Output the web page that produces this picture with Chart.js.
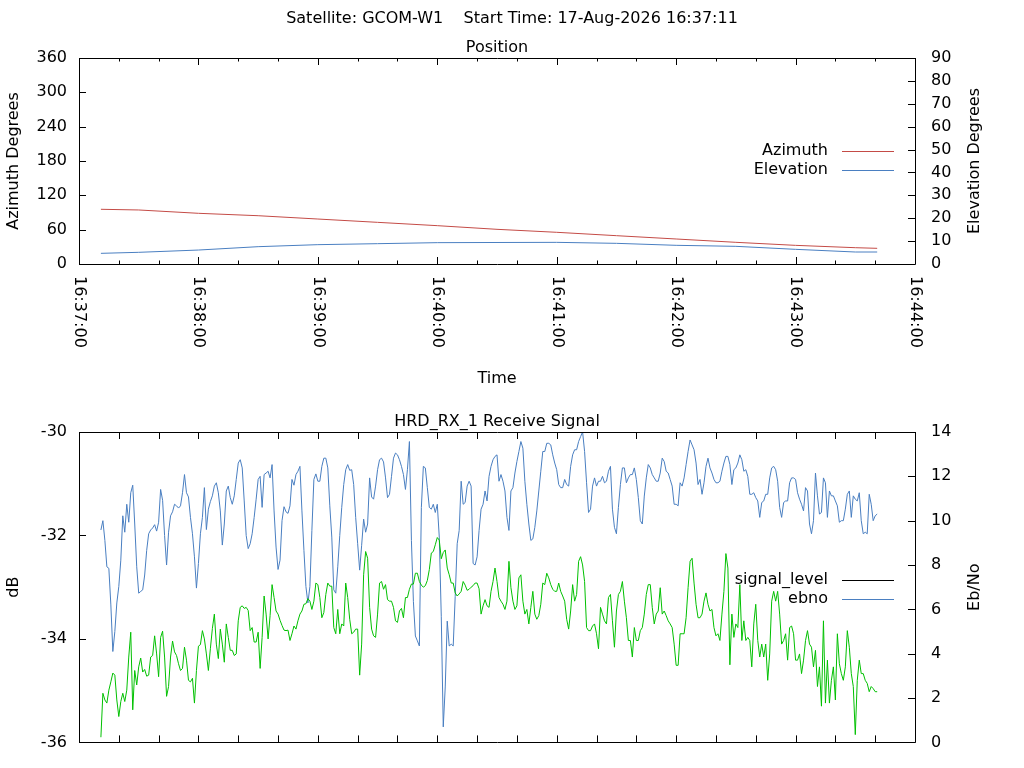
<!DOCTYPE html>
<html lang="en">
<head>
<meta charset="UTF-8">
<title>GCOM-W1 pass</title>
<style>
  body { margin: 0; background: #fff; }
  #page { position: relative; width: 1024px; height: 768px; font-family: 'DejaVu Sans', sans-serif; }
  #posBox { position: absolute; left: 0; top: 0; width: 1024px; height: 390px; }
  #rxBox { position: absolute; left: 0; top: 390px; width: 1024px; height: 378px; }
  #heading { position: absolute; left: 0; top: 8px; width: 1024px; text-align: center;
             font-size: 16px; line-height: 19px; white-space: pre; color: #000; }
</style>
</head>
<body>
<div id="page">
  <div id="posBox"><canvas id="posChart" width="1024" height="390"></canvas></div>
  <div id="rxBox"><canvas id="rxChart" width="1024" height="378"></canvas></div>
  <div id="heading">Satellite: GCOM-W1    Start Time: 17-Aug-2026 16:37:11</div>
</div>
<script src="https://cdn.jsdelivr.net/npm/chart.js@4.4.1/dist/chart.umd.min.js"></script>
<script>
// x axis is seconds after 16:37:00
const timeLabels = ['16:37:00', '16:38:00', '16:39:00', '16:40:00', '16:41:00', '16:42:00', '16:43:00', '16:44:00']

// antenna position
const posTimes  = [11, 30, 60, 90, 120, 150, 180, 210, 240, 270, 300, 330, 360, 390, 401]
const azimuth   = [95.6, 94.4, 88.6, 84.4, 78.6, 72.8, 67.0, 60.6, 55.4, 49.5, 43.7, 37.9, 32.6, 28.5, 27.4]
const elevation = [4.66, 5.1, 6.1, 7.57, 8.45, 8.88, 9.32, 9.4, 9.46, 9.03, 8.16, 7.72, 6.41, 5.24, 5.24]

// receiver samples, one per second from 16:37:11
const firstSample = 11
const signalLevel = [
  -35.9, -35.05, -35.18, -35.24, -34.99, -34.83, -34.66, -34.7, -35.18, -35.5,
  -35.21, -35.05, -35.21, -34.99, -34.35, -33.87, -35.37, -34.61, -34.89, -34.54,
  -34.37, -34.64, -34.59, -34.72, -34.7, -34.35, -34.32, -33.94, -34.29, -34.73,
  -33.97, -33.85, -34.35, -35.11, -34.92, -34.35, -34.04, -34.25, -34.32, -34.48,
  -34.61, -34.57, -34.16, -34.41, -34.8, -34.83, -34.76, -35.24, -34.61, -34.14,
  -34.11, -33.84, -34.0, -34.29, -34.61, -34.19, -33.8, -33.52, -34.1, -34.38,
  -33.81, -34.1, -34.45, -33.71, -33.97, -34.22, -34.22, -34.32, -34.29, -33.65,
  -33.39, -33.36, -33.41, -33.39, -33.45, -33.84, -33.78, -34.06, -34.06, -33.87,
  -34.57, -33.97, -33.17, -33.52, -34.0, -33.55, -32.95, -33.2, -33.46, -33.52,
  -33.64, -33.74, -33.83, -33.84, -33.83,
  -34.03, -33.9, -33.75, -33.81, -33.65,
  -33.52, -33.46, -33.33, -33.32, -33.22, -33.27, -33.43, -33.27, -32.92, -32.95,
  -33.2, -33.59, -33.49, -33.14, -32.92, -32.98, -32.98, -33.78, -33.9, -33.43,
  -33.9, -33.71, -33.75, -32.92, -33.2, -33.62, -33.9, -33.87, -33.81, -33.81,
  -34.7, -34.1, -32.76, -32.31, -32.44, -33.39, -33.81, -33.94, -33.97, -33.52,
  -32.92, -32.89, -33.04, -32.95, -33.24, -33.27, -33.27, -33.39, -33.65, -33.68,
  -33.46, -33.41, -33.59, -33.2, -33.2, -33.04, -32.94, -32.94, -32.73, -32.73,
  -32.89, -32.96, -33.0, -32.97, -32.87, -32.66, -32.34, -32.31, -32.18, -32.04,
  -32.09, -32.45, -32.33, -32.28, -32.63, -32.76, -32.92, -32.92, -33.11, -33.17,
  -33.13, -33.08, -32.89, -32.96, -33.06, -33.04, -33.0, -32.97, -32.92, -32.92,
  -33.03, -33.52, -33.36, -33.24, -33.36, -33.39,
  -33.08, -32.89, -32.63, -32.89,
  -33.2, -33.27, -33.33, -33.43, -33.27, -32.5, -33.01, -33.27, -33.43, -33.36,
  -32.82, -32.76, -33.27, -33.52, -33.43, -33.71, -33.39, -33.08, -33.52, -33.62,
  -33.55, -33.33, -32.92, -32.95, -32.73, -32.82, -32.95, -33.04, -33.08, -33.08,
  -32.92, -33.08, -33.17, -33.27, -33.62, -33.81, -33.46, -32.95, -33.27, -33.14,
  -32.5, -32.41, -32.57, -32.89, -33.78, -33.84, -33.84, -33.75, -33.71, -33.9,
  -34.19, -33.39, -33.52, -33.65, -33.71, -33.2, -33.14, -33.65, -34.16, -33.46,
  -33.14, -33.08, -32.89, -33.27, -33.59, -34.03, -34.03, -34.35, -33.78, -34.03,
  -34.03, -33.84, -33.78, -33.52, -33.14, -32.95, -32.95, -33.39, -33.71, -33.52,
  -33.46, -33.01, -33.52, -33.46, -33.55, -33.65, -33.71, -33.78, -34.1, -34.51,
  -34.51, -33.9, -33.9, -33.9, -33.59, -33.01,
  -32.5, -32.44, -32.92, -33.33,
  -33.59, -33.59, -33.52, -33.27, -33.11, -33.33, -33.46, -33.43, -33.78, -33.94,
  -33.9, -34.03, -33.52, -33.08, -32.35, -32.63, -34.5, -33.52, -33.97, -33.71,
  -33.78, -32.95, -34.03, -33.65, -34.03, -33.97, -34.03, -34.54, -33.71, -33.33,
  -34.03, -34.35, -34.1, -34.35, -34.1, -34.8, -34.29, -33.27, -33.08, -33.27,
  -33.08, -33.52, -34.1, -34.03, -33.9, -34.41, -33.78, -33.75, -33.9, -34.41,
  -34.41, -34.29, -34.67, -34.41, -34.03, -33.84, -34.1, -34.16, -34.54, -34.22,
  -34.92, -34.54, -35.3, -33.65, -35.24, -34.41, -35.24, -34.8, -34.54, -35.18,
  -33.9, -34.48, -34.67, -34.8, -34.54, -33.84, -34.16, -34.67, -34.92, -35.85,
  -34.8, -34.41, -34.67, -34.67, -34.8, -34.86, -35.02, -34.92, -34.96, -35.02,
  -35.02
]
const ebno = [
  9.58, 10.0, 9.11, 7.92, 7.85, 6.2, 4.1, 5.0, 6.29, 7.03,
  8.22, 10.22, 9.48, 10.74, 9.93, 11.26, 11.6, 9.85, 7.92, 6.73,
  6.81, 6.88, 7.55, 8.66, 9.41, 9.58, 9.67, 9.82, 9.53, 9.93,
  11.41, 10.92, 9.33, 8.0, 9.48, 10.22, 10.4, 10.74, 10.67, 10.57,
  10.67, 11.26, 12.08, 11.26, 11.07, 10.15, 9.41, 8.37, 6.96, 8.07,
  9.41, 10.15, 11.49, 9.6, 10.52, 10.86, 11.12, 11.56, 11.71, 11.26,
  10.44, 8.9, 9.85, 11.34, 11.56, 11.04, 10.74, 11.12, 11.86, 12.6,
  12.75, 12.38, 10.89, 9.33, 8.74, 8.96, 9.41, 10.15, 10.97, 11.86,
  12.0, 10.6, 12.08, 12.15, 12.23, 11.93, 12.53, 10.44, 8.81, 7.8,
  8.22, 10.0, 10.63, 10.4, 10.33,
  10.67, 11.86, 11.6, 12.08, 12.23,
  12.45, 10.44, 8.66, 7.03, 6.29, 7.03, 9.56, 11.86, 12.11, 11.78,
  11.78, 12.45, 12.82, 12.82, 12.38, 10.67, 9.26, 6.88, 6.73, 7.92,
  9.33, 10.6, 11.63, 12.3, 12.53, 12.27, 12.3, 11.63, 10.15, 8.96,
  7.77, 8.89, 10.07, 9.48, 9.85, 11.93, 11.07, 10.97, 11.56, 12.3,
  12.75, 12.82, 12.65, 11.93, 11.04, 11.19, 12.0, 12.82, 13.05, 12.97,
  12.75, 12.45, 12.08, 11.41, 12.3, 13.57, 9.11, 6.36, 4.8, 4.58,
  4.35, 10.6, 12.45, 12.38, 11.49, 10.6, 10.52, 10.74, 10.37, 10.74,
  9.26, 5.69, 0.7, 2.5, 5.47, 4.35, 4.43, 4.35, 6.58, 8.96,
  9.56, 11.78, 10.74, 10.82, 11.56, 11.78, 11.56, 8.07, 8.0, 8.37,
  9.56, 10.52, 10.74, 11.34, 10.89, 12.0,
  12.45, 12.75, 12.9, 12.97,
  11.78, 12.08, 11.78, 11.34, 10.15, 9.56, 11.34, 11.49, 12.15, 12.67,
  13.12, 13.57, 13.27, 11.78, 10.74, 9.85, 9.11, 9.18, 9.7, 10.44,
  11.34, 12.23, 13.12, 13.12, 13.49, 13.49, 13.42, 12.97, 12.6, 12.3,
  11.63, 11.49, 11.49, 11.86, 11.63, 11.56, 12.45, 12.97, 13.2, 13.2,
  13.57, 13.79, 14.01, 13.12, 11.71, 10.37, 10.52, 11.56, 11.93, 11.56,
  11.78, 11.78, 12.0, 11.71, 11.78, 12.23, 12.45, 10.52, 9.7, 9.41,
  10.6, 11.63, 12.38, 12.38, 11.71, 11.93, 12.08, 12.08, 12.38, 11.86,
  11.04, 10.0, 9.85, 11.11, 11.93, 12.53, 12.38, 12.08, 11.93, 11.78,
  11.78, 12.15, 12.82, 12.67, 12.23, 12.15, 11.86, 11.56, 10.74, 10.74,
  10.67, 11.71, 11.56, 11.93, 12.53, 13.12,
  13.64, 13.42, 13.2, 12.6,
  11.63, 11.86, 11.19, 11.71, 12.45, 12.82, 12.38, 12.15, 11.86, 11.71,
  11.71, 11.78, 12.23, 12.6, 12.9, 12.9, 12.53, 11.63, 12.3, 12.38,
  12.6, 12.97, 12.75, 12.23, 12.3, 12.0, 11.19, 11.19, 11.26, 11.04,
  10.89, 10.15, 10.82, 10.89, 11.19, 11.19, 11.93, 12.38, 12.45, 12.3,
  11.78, 10.6, 10.15, 10.82, 10.89, 10.89, 11.71, 11.93, 11.93, 11.86,
  11.26, 10.97, 10.74, 10.44, 11.49, 11.34, 9.85, 9.41, 10.0, 12.15,
  11.12, 10.3, 10.37, 11.93, 11.71, 10.15, 11.34, 11.12, 11.12, 10.89,
  10.67, 9.93, 10.0, 10.0, 10.52, 11.19, 11.34, 10.15, 11.12, 10.97,
  10.89, 11.26, 10.0, 9.41, 9.48, 9.41, 11.19, 10.74, 10.0, 10.22,
  10.3
]

const FONT = "'DejaVu Sans', sans-serif"
const FONT_SIZE = 16
const RED = '#c44b46'
const BLUE = '#4a7fc1'
const GREEN = '#00c000'

Chart.defaults.font.family = FONT
Chart.defaults.font.size = FONT_SIZE
Chart.defaults.color = '#000'

const toPoints = (xs, ys) => ys.map((v, i) => ({ x: xs[i], y: v }))
const toSeconds = ys => ys.map((v, i) => ({ x: firstSample + i, y: v }))

// gnuplot like border with inward ticks
const framePlugin = {
    id: 'frame',
    afterDraw(chart, args, opts) {
        const { ctx, chartArea: a, scales } = chart
        ctx.save()
        ctx.strokeStyle = '#000'
        ctx.lineWidth = 1
        ctx.beginPath()
        ctx.rect(Math.round(a.left) + 0.5, Math.round(a.top) + 0.5,
                 Math.round(a.right - a.left), Math.round(a.bottom - a.top))
        const xs = scales.x
        for (let t = xs.min; t <= xs.max; t += opts.xStep) {
            const px = Math.round(xs.getPixelForValue(t)) + 0.5
            const len = (t % opts.xMajor === 0) ? 7 : 3.5
            ctx.moveTo(px, a.bottom); ctx.lineTo(px, a.bottom - len)
            ctx.moveTo(px, a.top); ctx.lineTo(px, a.top + len)
        }
        ;['y', 'y2'].forEach(id => {
            const s = scales[id]
            s.ticks.forEach(tk => {
                const py = Math.round(s.getPixelForValue(tk.value)) + 0.5
                if (id === 'y') { ctx.moveTo(a.left, py); ctx.lineTo(a.left + 7, py) }
                else { ctx.moveTo(a.right, py); ctx.lineTo(a.right - 7, py) }
            })
        })
        ctx.stroke()
        ctx.restore()
    }
}

// key drawn inside the plot, text then sample line
const keyPlugin = {
    id: 'key',
    afterDraw(chart, args, opts) {
        const { ctx, chartArea: a } = chart
        ctx.save()
        ctx.font = `${FONT_SIZE}px ${FONT}`
        ctx.textAlign = 'right'
        ctx.textBaseline = 'middle'
        chart.data.datasets.forEach((ds, i) => {
            const y = a.top + opts.top + i * 19
            ctx.fillStyle = '#000'
            ctx.fillText(ds.label, a.right - 87, y)
            ctx.strokeStyle = ds.keyColor || ds.borderColor
            ctx.lineWidth = 1
            ctx.beginPath()
            ctx.moveTo(a.right - 73, Math.round(y) + 0.5)
            ctx.lineTo(a.right - 21, Math.round(y) + 0.5)
            ctx.stroke()
        })
        ctx.restore()
    }
}

// right axis title reads upwards, and the time labels read downwards
const extraTextPlugin = {
    id: 'extraText',
    afterDraw(chart, args, opts) {
        const { ctx, chartArea: a } = chart
        ctx.save()
        ctx.font = `${FONT_SIZE}px ${FONT}`
        ctx.fillStyle = '#000'
        ctx.textBaseline = 'middle'
        ctx.translate(a.right + 60, (a.top + a.bottom) / 2)
        ctx.rotate(-Math.PI / 2)
        ctx.textAlign = 'center'
        ctx.fillText(chart.options.scales.y2.title.text, 0, 0)
        ctx.restore()

        if (!opts.timeLabels) return
        const xs = chart.scales.x
        ctx.save()
        ctx.font = `${FONT_SIZE}px ${FONT}`
        ctx.fillStyle = '#000'
        ctx.textAlign = 'left'
        ctx.textBaseline = 'middle'
        timeLabels.forEach((lab, i) => {
            const px = xs.getPixelForValue(xs.min + i * 60)
            ctx.save()
            ctx.translate(px, a.bottom + 12)
            ctx.rotate(Math.PI / 2)
            ctx.fillText(lab, 0, 0)
            ctx.restore()
        })
        ctx.restore()
    }
}

const yScale = (min, max, step, title, pos) => ({
    position: pos,
    min: min, max: max,
    ticks: { stepSize: step, padding: pos === 'left' ? 12 : 16, color: '#000' },
    grid: { display: false, drawTicks: false },
    border: { display: false },
    title: { display: pos === 'left', text: title, color: '#000', padding: { top: 4.4, bottom: 0 } },
    afterFit: s => { s.width = 79 }
})

const xScale = (height, title) => ({
    type: 'linear',
    min: 0, max: 420,
    ticks: { display: false, stepSize: 20 },
    grid: { display: false, drawTicks: false },
    border: { display: false },
    title: { display: !!title, text: title, color: '#000', padding: { top: 0, bottom: 2 } },
    afterFit: s => { s.height = height }
})

const baseOptions = (titleText, titleTop) => ({
    responsive: false,
    animation: false,
    layout: { padding: { left: 0, right: 30, top: 0, bottom: 0 } },
    elements: { point: { radius: 0 }, line: { borderWidth: 1, tension: 0 } },
    plugins: {
        legend: { display: false },
        tooltip: { enabled: false },
        title: { display: true, text: titleText, color: '#000',
                 font: { size: FONT_SIZE, weight: 'normal' }, padding: { top: titleTop, bottom: 0.4 } }
    }
})

// upper panel
const posOpts = baseOptions('Position', 38.4)
posOpts.scales = {
    x: xScale(126, 'Time'),
    y: yScale(0, 360, 60, 'Azimuth Degrees', 'left'),
    y2: yScale(0, 90, 10, 'Elevation Degrees', 'right')
}
posOpts.plugins.frame = { xStep: 20, xMajor: 60 }
posOpts.plugins.key = { top: 93 }
posOpts.plugins.extraText = { timeLabels: true }

new Chart(document.getElementById('posChart'), {
    type: 'line',
    data: {
        datasets: [
            { label: 'Azimuth', data: toPoints(posTimes, azimuth), borderColor: RED, yAxisID: 'y' },
            { label: 'Elevation', data: toPoints(posTimes, elevation), borderColor: BLUE, yAxisID: 'y2' }
        ]
    },
    options: posOpts,
    plugins: [framePlugin, keyPlugin, extraTextPlugin]
})

// lower panel
const rxOpts = baseOptions('HRD_RX_1 Receive Signal', 22.4)
rxOpts.scales = {
    x: xScale(22, ''),
    y: yScale(-36, -30, 2, 'dB', 'left'),
    y2: yScale(0, 14, 2, 'Eb/No', 'right')
}
rxOpts.plugins.frame = { xStep: 20, xMajor: 20 }
rxOpts.plugins.key = { top: 148 }
rxOpts.plugins.extraText = { timeLabels: false }

new Chart(document.getElementById('rxChart'), {
    type: 'line',
    data: {
        datasets: [
            // key sample for signal_level is black in the original
            { label: 'signal_level', data: toSeconds(signalLevel), borderColor: GREEN, keyColor: '#000', yAxisID: 'y' },
            { label: 'ebno', data: toSeconds(ebno), borderColor: BLUE, yAxisID: 'y2' }
        ]
    },
    options: rxOpts,
    plugins: [framePlugin, keyPlugin, extraTextPlugin]
})
</script>
</body>
</html>
